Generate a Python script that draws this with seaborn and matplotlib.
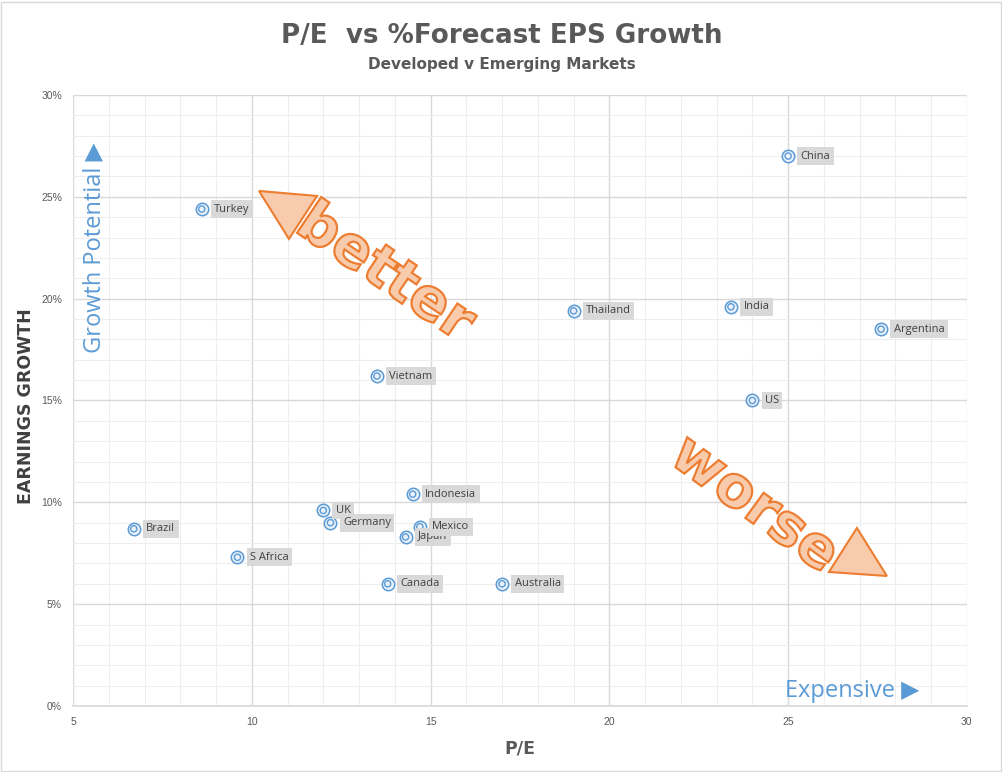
import numpy as np
import pandas as pd
import seaborn as sns
import matplotlib.pyplot as plt
from matplotlib.patches import Polygon, Rectangle, PathPatch
from matplotlib.textpath import TextPath
from matplotlib.font_manager import FontProperties
from matplotlib.transforms import Affine2D, ScaledTranslation
from matplotlib.ticker import MultipleLocator, PercentFormatter

# ===============================
# 1. DATA
# ===============================
countries = ["China", "Turkey", "Thailand", "India", "Argentina", "Vietnam", "US",
             "Indonesia", "UK", "Germany", "Japan", "Mexico", "Brazil", "S Africa",
             "Canada", "Australia"]
pe_ratio = [25.0, 8.6, 19.0, 23.4, 27.6, 13.5, 24.0,
            14.5, 12.0, 12.2, 14.3, 14.7, 6.7, 9.6,
            13.8, 17.0]
eps_growth = [27.0, 24.4, 19.4, 19.6, 18.5, 16.2, 15.0,
              10.4, 9.6, 9.0, 8.3, 8.8, 8.7, 7.3,
              6.0, 6.0]

df = pd.DataFrame({"country": countries, "pe": pe_ratio, "growth": eps_growth})

# ===============================
# 2. STYLE
# ===============================
sns.set_theme(style="white")
plt.rcParams["font.family"] = ["Liberation Sans", "DejaVu Sans"]

BLUE = "#5B9BD5"
ORANGE = "#ED7D31"
LIGHT_ORANGE = "#F8CBAD"
DARK = "#595959"
HEAVY = ["DejaVu Sans"]

fig = plt.figure(figsize=(10.03, 7.72), dpi=100)
ax = fig.add_axes([0.0728, 0.0855, 0.8912, 0.7915])

# ===============================
# 3. SCATTER (double ring markers)
# ===============================
sns.scatterplot(data=df, x="pe", y="growth", ax=ax, s=80, marker="o",
                facecolor="#EAF1FA", edgecolor=BLUE, linewidth=1.1, zorder=4)
sns.scatterplot(data=df, x="pe", y="growth", ax=ax, s=20, marker="o",
                facecolor="none", edgecolor=BLUE, linewidth=1.0, zorder=5)

for _, r in df.iterrows():
    ax.annotate(r["country"], (r["pe"], r["growth"]), xytext=(9, 0),
                textcoords="offset points", va="center", ha="left",
                fontsize=8, color="#404040", family=["Open Sans", "DejaVu Sans"],
                bbox=dict(boxstyle="square,pad=0.3", fc="#D9D9D9", ec="none"),
                zorder=6)

# ===============================
# 4. AXES, GRID, LABELS
# ===============================
ax.set_xlim(5, 30)
ax.set_ylim(0, 30)
ax.xaxis.set_major_locator(MultipleLocator(5))
ax.xaxis.set_minor_locator(MultipleLocator(1))
ax.yaxis.set_major_locator(MultipleLocator(5))
ax.yaxis.set_minor_locator(MultipleLocator(1))
ax.yaxis.set_major_formatter(PercentFormatter(decimals=0))
ax.grid(which="major", color="#D9D9D9", linewidth=1.0)
ax.grid(which="minor", color="#EEEEEE", linewidth=0.8)
ax.set_axisbelow(True)
for s in ["top", "right", "left"]:
    ax.spines[s].set_visible(False)
ax.spines["bottom"].set_color("#D9D9D9")
ax.tick_params(which="both", length=0, labelsize=7.5, colors=DARK, pad=8)

ax.set_xlabel("P/E", fontsize=12.5, fontweight="bold", color=DARK, labelpad=9,
              family=HEAVY)
ax.set_ylabel("EARNINGS GROWTH", fontsize=12.5, fontweight="bold", color="#404040",
              family=HEAVY)
ax.yaxis.set_label_coords(-0.042, 0.49)

fig.text(0.5, 0.953, "P/E  vs %Forecast EPS Growth", ha="center", va="center",
         fontsize=18.8, fontweight="bold", color=DARK, family=HEAVY)
fig.text(0.5, 0.916, "Developed v Emerging Markets", ha="center", va="center",
         fontsize=11, fontweight="bold", color=DARK, family=HEAVY)

# ===============================
# 5. ANNOTATIONS (better / worse arrows)
# ===============================
def px_to_ax(px, py):
    return ((px - 73) / 894.0, (706 - py) / 611.0)


def outlined_word(word, size, angle, center_px):
    prop = FontProperties(family="DejaVu Sans", weight="bold")
    path = TextPath((0, 0), word, size=size, prop=prop)
    ext = path.get_extents()
    cx, cy = (ext.x0 + ext.x1) / 2, (ext.y0 + ext.y1) / 2
    ax_x, ax_y = px_to_ax(*center_px)
    trans = (Affine2D().translate(-cx, -cy).rotate_deg(angle).scale(fig.dpi / 72.0)
             + ScaledTranslation(ax_x, ax_y, ax.transAxes))
    ax.add_patch(PathPatch(path, transform=trans, fc=LIGHT_ORANGE, ec=ORANGE,
                           lw=1.6, zorder=3))


outlined_word("better", 41, -34, (390, 270))
outlined_word("worse", 41, -36, (754, 505))

tri_better = [px_to_ax(259, 191), px_to_ax(317, 196), px_to_ax(289, 239)]
tri_worse = [px_to_ax(857, 528), px_to_ax(829, 572), px_to_ax(887, 576)]
for tri in (tri_better, tri_worse):
    ax.add_patch(Polygon(tri, closed=True, transform=ax.transAxes,
                         fc=LIGHT_ORANGE, ec=ORANGE, lw=1.5, zorder=3))

ax.text(0.797, 0.025, "Expensive \u25B6", transform=ax.transAxes, ha="left",
        va="center", fontsize=17, color=BLUE, family=["Open Sans", "DejaVu Sans"])
ax.text(0.023, 0.75, "Growth Potential \u25B6", transform=ax.transAxes, rotation=90,
        ha="center", va="center", fontsize=17, color=BLUE,
        family=["Open Sans", "DejaVu Sans"])

# figure border
fig.patches.append(Rectangle((0.001, 0.001), 0.997, 0.997, transform=fig.transFigure,
                             fill=False, ec="#D9D9D9", lw=1))

fig.savefig("out.png", dpi=100)
